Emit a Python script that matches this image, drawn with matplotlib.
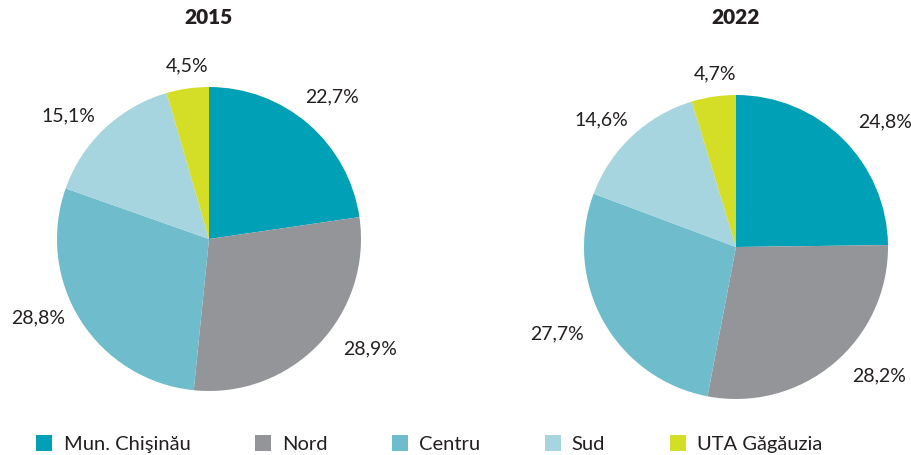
import numpy as np
import matplotlib.pyplot as plt
from matplotlib.patches import Patch

plt.rcParams['font.family'] = ['Lato', 'DejaVu Sans']

regions = ['Mun. Chişinău', 'Nord', 'Centru', 'Sud', 'UTA Găgăuzia']
years = ['2015', '2022']
share_2015 = [22.7, 28.9, 28.8, 15.1, 4.5]
share_2022 = [24.8, 28.2, 27.7, 14.6, 4.7]
colors = ['#00A0B6', '#939598', '#6FBDCC', '#A6D4DF', '#D5DE26']

# label placement tweaks (angle offset in deg, radial distance in radii)
label_nudge = {
    '2015': ([0, 9.5, -7.7, 5.5, -1], [1.24, 1.28, 1.24, 1.23, 1.15]),
    '2022': ([-5.5, 8, -3.5, 3.4, -1.5], [1.28, 1.27, 1.31, 1.22, 1.15]),
}

W, H = 912, 455
fig = plt.figure(figsize=(W / 100, H / 100), dpi=100)

R = 152  # pie radius in px
centers = [(209, 239), (736, 247)]
half = 170  # half axes size in px

for year, vals, (cx, cy) in zip(years, [share_2015, share_2022], centers):
    ax = fig.add_axes([(cx - half) / W, (H - cy - half) / H, 2 * half / W, 2 * half / H])
    wedges, _ = ax.pie(vals, colors=colors, startangle=90, counterclock=False,
                       radius=1, wedgeprops=dict(linewidth=0))
    lim = half / R
    ax.set_xlim(-lim, lim)
    ax.set_ylim(-lim, lim)
    ax.set_aspect('equal')
    ax.axis('off')
    offs, dists = label_nudge[year]
    for w, v, off, d in zip(wedges, vals, offs, dists):
        ang = np.deg2rad((w.theta1 + w.theta2) / 2 + off)
        ax.text(d * np.cos(ang), d * np.sin(ang), f'{v:.1f}%'.replace('.', ','),
                ha='center', va='center', fontsize=14, color='#231F20')
    fig.text(cx / W, 1 - 18 / H, year, ha='center', va='center',
             fontsize=15, fontweight='heavy', color='#231F20')

handles = [Patch(facecolor=c, edgecolor='none') for c in colors]
fig.legend(handles, regions, loc='lower left', bbox_to_anchor=(0.02, -0.035),
           ncol=5, frameon=False, fontsize=14.5, handlelength=0.8, handleheight=0.8,
           handletextpad=0.55, columnspacing=3.2, labelcolor='#231F20')

fig.savefig('out.png', dpi=100)
